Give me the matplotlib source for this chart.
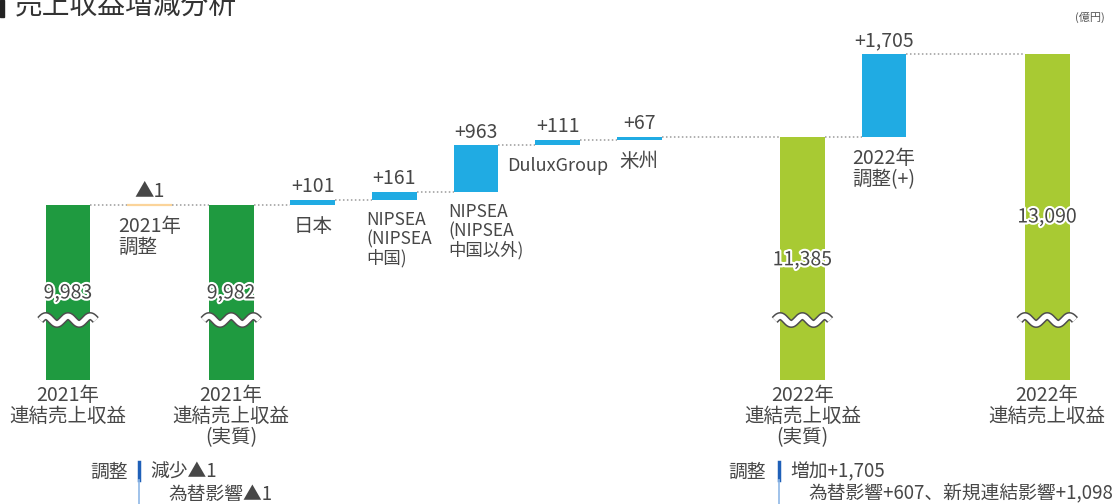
import numpy as np
import matplotlib
matplotlib.use("Agg")
import matplotlib.pyplot as plt
import matplotlib.patheffects as pe
from matplotlib.transforms import blended_transform_factory, offset_copy
from matplotlib.patches import Rectangle
from matplotlib.lines import Line2D

plt.rcParams['font.family'] = ['Noto Sans CJK JP', 'DejaVu Sans']

# ---------------- data ----------------
categories = ["2021年\n連結売上収益", "2021年\n調整", "2021年\n連結売上収益\n(実質)",
              "日本", "NIPSEA\n(NIPSEA\n中国)", "NIPSEA\n(NIPSEA\n中国以外)",
              "DuluxGroup", "米州", "2022年\n連結売上収益\n(実質)",
              "2022年\n調整(+)", "2022年\n連結売上収益"]
values = [9983, -1, 9982, 101, 161, 963, 111, 67, 11385, 1705, 13090]
kinds = ["total21", "adj", "total21", "inc", "inc", "inc", "inc", "inc",
         "total22", "inc", "total22"]
value_labels = ["9,983", "▲1", "9,982", "+101", "+161", "+963", "+111", "+67",
                "11,385", "+1,705", "13,090"]
slots = [0, 1, 2, 3, 4, 5, 6, 7, 9, 10, 12]
title = "売上収益増減分析"
unit = "(億円)"
note_left = ["調整", "減少▲1", "為替影響▲1"]
note_right = ["調整", "増加+1,705", "為替影響+607、新規連結影響+1,098"]

colors = {"total21": "#1f9a40", "total22": "#a8ca33", "inc": "#20abe3", "adj": "#fbd49a"}
TXT = "#474747"

# ---------------- figure geometry ----------------
W, H = 1118, 504
fig = plt.figure(figsize=(W / 100, H / 100), dpi=100)
ax_top_px, ax_bot_px = 30, 380
ax = fig.add_axes([0, (H - ax_bot_px) / H, 1, (ax_bot_px - ax_top_px) / H])
slot_px0, slot_dx = 68, 81.6
ax.set_xlim(-slot_px0 / slot_dx, (W - slot_px0) / slot_dx)
k = 151 / 3108.0  # px per unit
ylo = 9982 - (ax_bot_px - 205) / k
yhi = 13090 + (54 - ax_top_px) / k
ax.set_ylim(ylo, yhi)
ax.axis("off")

bw = 0.55
FS = 14

# ---------------- bars ----------------
level = 0
tops, bottoms = [], []
for s, v, kd in zip(slots, values, kinds):
    if kd.startswith("total"):
        ax.bar(s, v, width=bw, bottom=0, color=colors[kd], linewidth=0, zorder=2)
        level = v
        bottoms.append(None)
        tops.append(v)
    else:
        b = level if v >= 0 else level + v
        if kd == "adj":
            ax.bar(s, abs(v), width=bw, bottom=b, color=colors[kd],
                   edgecolor=colors[kd], linewidth=1.6, zorder=2)
        else:
            ax.bar(s, abs(v), width=bw, bottom=b, color=colors[kd], linewidth=0, zorder=2)
        level = level + v
        bottoms.append(b)
        tops.append(b + abs(v))

# connectors
levels = []
lv = 0
for v, kd in zip(values, kinds):
    lv = v if kd.startswith("total") else lv + v
    levels.append(lv)
for i in range(len(slots) - 1):
    lvl = levels[i]
    ax.plot([slots[i] + bw / 2, slots[i + 1] - bw / 2], [lvl, lvl],
            linestyle=(0, (1, 1.6)), color="#9a9a9a", linewidth=1.1, zorder=1)

halo = [pe.withStroke(linewidth=3, foreground="white")]

# labels
for i, (s, v, kd) in enumerate(zip(slots, values, kinds)):
    if kd.startswith("total"):
        dy_px = 88 if kd == "total21" else (123 if v < 12000 else 163)
        ax.text(s, tops[i], value_labels[i], ha="center", va="center", fontsize=FS,
                color=TXT, path_effects=halo, zorder=5,
                transform=offset_copy(ax.transData, fig=fig, y=-dy_px * 0.72, units="points"))
        tr = blended_transform_factory(ax.transData, fig.transFigure)
        ax.text(s, 1 - 385 / H, categories[i], ha="center", va="top", fontsize=FS,
                color=TXT, linespacing=1.0, transform=tr, clip_on=False)
        # wavy break
        xs = np.linspace(s - 0.34, s + 0.34, 200)
        ys_px = 320 + 3.8 * np.sin((xs - (s - 0.34)) / 0.68 * 2.5 * 2 * np.pi + np.pi)
        ys = 9982 - (ys_px - 205) / k
        ax.plot(xs, ys, color="#4d4d4d", linewidth=6.0, solid_capstyle="butt", zorder=3)
        ax.plot(xs, ys, color="white", linewidth=3.8, solid_capstyle="butt", zorder=4)
    else:
        ax.annotate(value_labels[i], (s, tops[i]), xytext=(0, 2), textcoords="offset points",
                    ha="center", va="bottom", fontsize=FS, color=TXT, zorder=5)
        if "NIPSEA" in categories[i]:
            ax.annotate(categories[i], (s - bw / 2, bottoms[i]), xytext=(-4, -8),
                        textcoords="offset points", ha="left", va="top", fontsize=FS - 1.5,
                        color=TXT, linespacing=1.05, zorder=5)
        else:
            ax.annotate(categories[i], (s, bottoms[i]), xytext=(0, -8), textcoords="offset points",
                        ha="center", va="top",
                        fontsize=FS - 1 if "Dulux" in categories[i] else FS,
                        color=TXT, linespacing=1.0, multialignment="left", zorder=5)

# ---------------- title & unit ----------------
fig.text(15 / W, 1 - 6 / H, title, ha="left", va="center", fontsize=20, color="#333333")
fig.patches.append(Rectangle((0, 1 - 17 / H), 4 / W, 17 / H, transform=fig.transFigure,
                             color="#222222", figure=fig))
fig.text(1105 / W, 1 - 17 / H, unit, ha="right", va="center", fontsize=8, color="#555555")

# ---------------- notes ----------------
def note(xr, xline, lines):
    fig.text(xr / W, 1 - 472 / H, lines[0], ha="right", va="center", fontsize=FS - 0.5, color=TXT)
    fig.add_artist(Line2D([xline / W, xline / W], [1 - 462 / H, 1 - 480 / H],
                          transform=fig.transFigure, color="#1f60b8", linewidth=2.5))
    fig.add_artist(Line2D([xline / W, xline / W], [1 - 480 / H, 0],
                          transform=fig.transFigure, color="#8fb8e6", linewidth=1.2))
    fig.text((xline + 11) / W, 1 - 472 / H, lines[1], ha="left", va="center", fontsize=FS - 0.5, color=TXT)
    fig.text((xline + 29) / W, 1 - 494 / H, lines[2], ha="left", va="center", fontsize=FS - 0.5, color=TXT)

note(128, 139, note_left)
note(766, 779, note_right)

fig.savefig("out.png", dpi=100)
